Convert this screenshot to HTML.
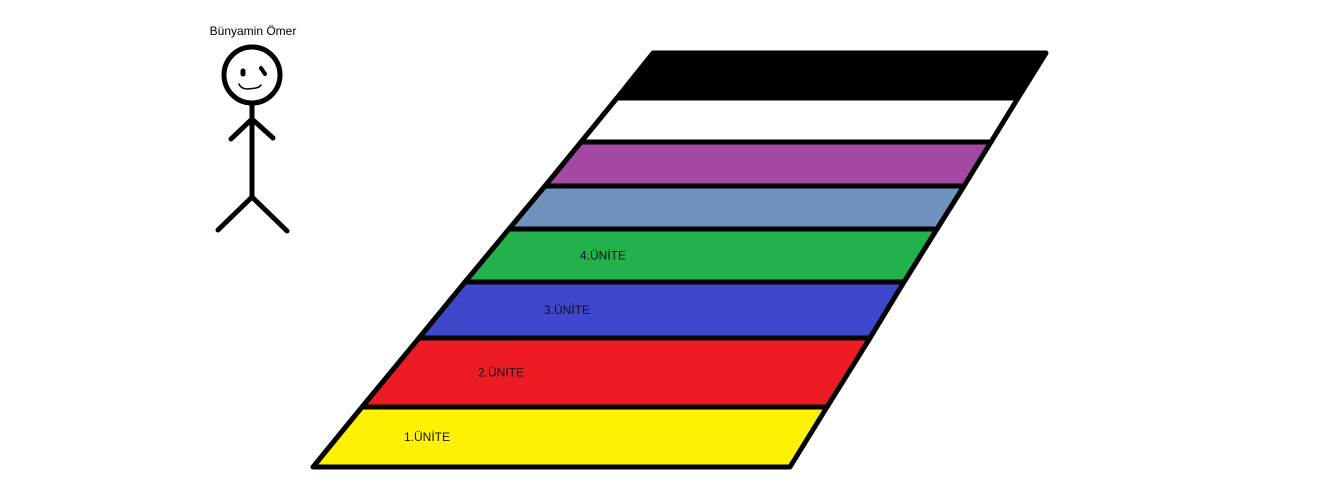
<!DOCTYPE html>
<html><head><meta charset="utf-8"><style>
html,body{margin:0;padding:0;background:#fff;}
svg{display:block;}
text{font-family:"Liberation Sans","DejaVu Sans",sans-serif;}
</style></head><body>
<svg id="s" width="1338" height="503" viewBox="0 0 1338 503">
<g stroke="#000" stroke-width="5" fill="none" stroke-linecap="round">
  <circle cx="252" cy="75" r="28"/>
  <line x1="243" y1="71" x2="243" y2="74" stroke-width="5"/>
  <line x1="261" y1="68" x2="265" y2="74" stroke-width="4"/>
  <path d="M239 84 Q241 89 248 89 L256 88 Q260 87 261 85" stroke-width="1.5"/>
  <line x1="252" y1="103" x2="252" y2="198"/>
  <line x1="252" y1="119" x2="231" y2="139"/>
  <line x1="252" y1="119" x2="273" y2="138"/>
  <line x1="252" y1="197" x2="218" y2="230"/>
  <line x1="252" y1="197" x2="287" y2="231"/>
</g>
<text x="253" y="35" font-size="12" text-anchor="middle" fill="#000">Bünyamin Ömer</text>
<g id="bands"></g>
<g id="labels"></g>
</svg>
<script>
const bandYs = [53, 98, 142, 186, 229, 282, 338, 407, 467];
const leftXs = [653, 617, 581, 545, 509, 465, 419, 362, 313];
const rightXs = [1046, 1018, 991, 964, 937, 904, 870, 827, 790];
const bandColors = ["#000000", "#ffffff", "#a349a4", "#7092be", "#22b14c", "#3f48cc", "#ed1c24", "#fff200"];
const bandNames = ["black-band", "white-band", "purple-band", "light-blue-band", "green-band", "blue-band", "red-band", "yellow-band"];
const labelTexts = ["4.ÜNİTE", "3.ÜNİTE", "2.ÜNİTE", "1.ÜNİTE"];
const labelX = [580, 544, 478, 404];
const labelBandIdx = [4, 5, 6, 7];

const NS = "http://www.w3.org/2000/svg";
const g = document.getElementById('bands');
for (let i = 0; i < bandColors.length; i++) {
  const p = document.createElementNS(NS, 'polygon');
  p.setAttribute('points', `${leftXs[i]},${bandYs[i]} ${rightXs[i]},${bandYs[i]} ${rightXs[i+1]},${bandYs[i+1]} ${leftXs[i+1]},${bandYs[i+1]}`);
  p.setAttribute('fill', bandColors[i]);
  p.setAttribute('stroke', '#000');
  p.setAttribute('stroke-width', '5');
  p.setAttribute('stroke-linejoin', 'round');
  
  
  g.appendChild(p);
}
const lg = document.getElementById('labels');
for (let i = 0; i < labelTexts.length; i++) {
  const b = labelBandIdx[i];
  const t = document.createElementNS(NS, 'text');
  t.setAttribute('x', labelX[i]);
  t.setAttribute('y', (bandYs[b] + bandYs[b+1]) / 2 + 4);
  t.setAttribute('font-size', '12');
  t.setAttribute('fill', '#111');
  t.textContent = labelTexts[i];
  
  
  lg.appendChild(t);
}
</script>
</body></html>
